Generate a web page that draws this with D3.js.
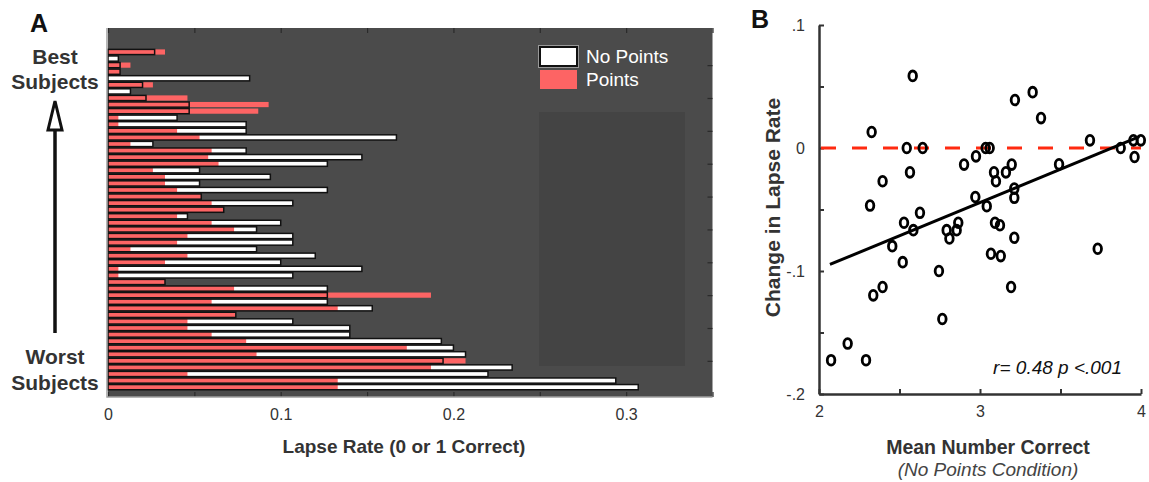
<!DOCTYPE html>
<html>
<head>
<meta charset="utf-8">
<script src="https://cdn.jsdelivr.net/npm/d3@7"></script>
<style>
  body { margin: 0; background: #fff; }
  text { font-family: "Liberation Sans", Arial, Helvetica, sans-serif; }
</style>
</head>
<body>
<div id="fig"></div>
<script>
const width = 1149;
const height = 482;

// Panel A: lapse rate per subject, listed from best (top) to worst (bottom)
const noPoints = [0.027, 0.006, 0.007, 0.007, 0.082, 0.020, 0.013, 0.022, 0.047, 0.047,
                  0.040, 0.080, 0.080, 0.167, 0.026, 0.080, 0.147, 0.127, 0.053, 0.094,
                  0.053, 0.127, 0.054, 0.107, 0.067, 0.046, 0.100, 0.086, 0.107, 0.107,
                  0.086, 0.120, 0.100, 0.147, 0.107, 0.033, 0.127, 0.127, 0.127, 0.153,
                  0.074, 0.107, 0.140, 0.140, 0.193, 0.200, 0.207, 0.194, 0.234, 0.220,
                  0.294, 0.307];
const points = [0.033, 0, 0.013, 0.007, 0, 0.026, 0, 0.046, 0.093, 0.087,
                0.006, 0.006, 0.040, 0.053, 0.013, 0.060, 0.058, 0.064, 0.026, 0.033,
                0.033, 0.040, 0.054, 0.060, 0.067, 0.040, 0.060, 0.073, 0.046, 0.040,
                0.013, 0.046, 0.033, 0.006, 0.006, 0.033, 0.073, 0.187, 0.060, 0.133,
                0.074, 0.046, 0.046, 0.060, 0.080, 0.173, 0.086, 0.207, 0.187, 0.046,
                0.133, 0.133];
const xTicksA = [0, 0.05, 0.1, 0.15, 0.2, 0.25, 0.3, 0.35];
const xLabelsA = ["0", "", "0.1", "", "0.2", "", "0.3", ""];
const yTicksA = [5, 10, 15, 20, 25, 30, 35, 40, 45, 50];
const legendA = [{name: "No Points", fill: "#ffffff"}, {name: "Points", fill: "#fd6464"}];

// Panel B: change in lapse rate vs mean number correct
const meanCorrect = [2.327, 2.582, 2.545, 2.644, 2.565, 2.395, 2.317, 2.627, 2.528, 2.586,
                     2.455, 2.520, 2.793, 2.855, 2.810, 2.865, 2.745, 2.766, 2.337, 2.395,
                     2.178, 2.075, 2.292, 2.901, 2.975, 3.035, 3.060, 2.971, 3.042, 3.087,
                     3.099, 3.161, 3.197, 3.217, 3.327, 3.379, 3.213, 3.213, 3.093, 3.124,
                     3.213, 3.068, 3.129, 3.193, 3.491, 3.683, 3.874, 3.953, 3.999, 3.960,
                     3.731];
const lapseChange = [0.013, 0.0586, 0, 0, -0.0198, -0.027, -0.0468, -0.0527, -0.0608, -0.0668,
                     -0.0798, -0.0928, -0.0668, -0.0668, -0.0736, -0.0608, -0.100, -0.139, -0.1198, -0.113,
                     -0.159, -0.1725, -0.1725, -0.0135, -0.0068, 0, 0, -0.0398, -0.0473, -0.0198,
                     -0.027, -0.0198, -0.0135, 0.039, 0.0454, 0.0243, -0.033, -0.0405, -0.0608, -0.0628,
                     -0.073, -0.086, -0.0879, -0.113, -0.0133, 0.0062, 0, 0.0062, 0.0062, -0.0073,
                     -0.0819];
const fitX = [2.068, 3.99];
const fitY = [-0.0947, 0.0092];
const xTicksB = [2, 2.5, 3, 3.5, 4];
const xLabelsB = ["2", "", "3", "", "4"];
const yTicksB = [-0.2, -0.15, -0.1, -0.05, 0, 0.05, 0.1];
const yLabelsB = ["-.2", "", "-.1", "", "0", "", ".1"];

const svg = d3.select("#fig")
    .append("svg")
    .attr("width", width)
    .attr("height", height)
    .style("background-color", "#fff");

// ---------------- Panel A ----------------
const boxTop = 28, boxBottom = 397;
const xA = d3.scaleLinear().domain([0, 0.35]).range([108, 712.5]);
const yA = d3.scaleLinear().domain([-0.5, 55.65]).range([boxBottom, boxTop]);

svg.append("rect")
    .attr("x", xA(0)).attr("y", boxTop)
    .attr("width", xA(0.35) - xA(0)).attr("height", boxBottom - boxTop)
    .attr("fill", "#4b4b4b");

// darker inner panel on the right
svg.append("rect")
    .attr("x", 539).attr("y", 112)
    .attr("width", 146).attr("height", 254)
    .attr("fill", "#444444");

function styleTicks(g, color) {
    g.select(".domain").remove();
    g.selectAll(".tick line").attr("stroke", color).attr("stroke-width", 1.2);
}

svg.append("g")
    .attr("transform", `translate(0,${boxBottom})`)
    .call(d3.axisBottom(xA).tickValues(xTicksA).tickSize(-5).tickSizeOuter(0)
        .tickPadding(12).tickFormat((d, i) => xLabelsA[i]))
    .call(g => styleTicks(g, "#2a2a2a"))
    .call(g => g.selectAll("text").attr("font-size", 16).attr("fill", "#333"));

svg.append("g")
    .attr("transform", `translate(0,${boxTop})`)
    .call(d3.axisTop(xA).tickValues(xTicksA).tickSize(-5).tickSizeOuter(0).tickFormat(""))
    .call(g => styleTicks(g, "#2a2a2a"));

svg.append("g")
    .attr("transform", `translate(${xA(0.35)},0)`)
    .call(d3.axisRight(yA).tickValues(yTicksA).tickSize(-5).tickSizeOuter(0).tickFormat(""))
    .call(g => styleTicks(g, "#2a2a2a"));

const rows = noPoints.map((v, i) => ({rank: noPoints.length - i, noPts: v, pts: points[i]}));
const barH = 5.2;

svg.append("g").selectAll("rect")
    .data(rows).enter().append("rect")
    .attr("x", xA(0))
    .attr("y", d => yA(d.rank) - barH / 2)
    .attr("width", d => xA(d.noPts) - xA(0))
    .attr("height", barH)
    .attr("fill", "#fff");

svg.append("g").selectAll("rect")
    .data(rows.filter(d => d.pts > 0)).enter().append("rect")
    .attr("x", xA(0))
    .attr("y", d => yA(d.rank) - barH / 2)
    .attr("width", d => xA(d.pts) - xA(0))
    .attr("height", barH)
    .attr("fill", "#fd6464");

svg.append("g").selectAll("rect")
    .data(rows).enter().append("rect")
    .attr("x", xA(0))
    .attr("y", d => yA(d.rank) - barH / 2)
    .attr("width", d => xA(d.noPts) - xA(0))
    .attr("height", barH)
    .attr("fill", "none")
    .attr("stroke", "#111")
    .attr("stroke-width", 1.5);

// box edges
svg.append("path")
    .attr("d", `M${xA(0) - 1},${boxTop} V${boxBottom} H${xA(0.35)}`)
    .attr("fill", "none").attr("stroke", "#a0a0a0").attr("stroke-width", 1.5);

// legend
const legend = svg.append("g").attr("transform", "translate(539,46)");
legend.selectAll("rect")
    .data(legendA).enter().append("rect")
    .attr("x", 1).attr("y", (d, i) => i * 23 + 1)
    .attr("width", 37).attr("height", 19)
    .attr("fill", d => d.fill)
    .attr("stroke", (d, i) => i === 0 ? "#111" : "none")
    .attr("stroke-width", 2);
legend.append("rect")
    .attr("x", -0.5).attr("y", -0.5).attr("width", 40).attr("height", 22)
    .attr("fill", "none").attr("stroke", "#999").attr("stroke-width", 1);
legend.selectAll("text")
    .data(legendA).enter().append("text")
    .attr("x", 47).attr("y", (d, i) => i * 23 + 17)
    .attr("font-size", 19)
    .attr("fill", "#fff")
    .text(d => d.name);

svg.append("text")
    .attr("x", 404).attr("y", 453)
    .attr("text-anchor", "middle")
    .attr("font-size", 19).attr("font-weight", "bold").attr("fill", "#333")
    .text("Lapse Rate (0 or 1 Correct)");

svg.append("text").attr("x", 30).attr("y", 32)
    .attr("font-size", 25).attr("font-weight", "bold").attr("fill", "#111").text("A");

const sideLabels = [
    {t: "Best", y: 64}, {t: "Subjects", y: 89},
    {t: "Worst", y: 364}, {t: "Subjects", y: 390}
];
svg.append("g").selectAll("text")
    .data(sideLabels).enter().append("text")
    .attr("x", 55).attr("y", d => d.y)
    .attr("text-anchor", "middle")
    .attr("font-size", 21).attr("font-weight", "bold").attr("fill", "#333")
    .text(d => d.t);

svg.append("line")
    .attr("x1", 55).attr("x2", 55).attr("y1", 333).attr("y2", 130)
    .attr("stroke", "#111").attr("stroke-width", 3.5);
svg.append("path")
    .attr("d", "M55,101 L48,130 L62,130 Z")
    .attr("fill", "#fff").attr("stroke", "#111").attr("stroke-width", 3).attr("stroke-linejoin", "miter");

// ---------------- Panel B ----------------
const xB = d3.scaleLinear().domain([2, 4]).range([819, 1141]);
const yB = d3.scaleLinear().domain([-0.2, 0.1]).range([394, 25]);

svg.append("g")
    .attr("transform", `translate(0,${yB(-0.2)})`)
    .call(d3.axisBottom(xB).tickValues(xTicksB).tickSize(-5).tickSizeOuter(0)
        .tickPadding(12).tickFormat((d, i) => xLabelsB[i]))
    .call(g => g.select(".domain").attr("stroke", "#333").attr("stroke-width", 2.5))
    .call(g => g.selectAll(".tick line").attr("stroke", "#333").attr("stroke-width", 2))
    .call(g => g.selectAll("text").attr("font-size", 16).attr("fill", "#333"));

svg.append("g")
    .attr("transform", `translate(${xB(2)},0)`)
    .call(d3.axisLeft(yB).tickValues(yTicksB).tickSize(-5).tickSizeOuter(0)
        .tickPadding(14).tickFormat((d, i) => yLabelsB[i]))
    .call(g => g.select(".domain").attr("stroke", "#333").attr("stroke-width", 2.5))
    .call(g => g.selectAll(".tick line").attr("stroke", "#333").attr("stroke-width", 2))
    .call(g => g.selectAll("text").attr("font-size", 16).attr("fill", "#333"));

svg.append("line")
    .attr("x1", xB(2) + 2).attr("x2", xB(4)).attr("y1", yB(0)).attr("y2", yB(0))
    .attr("stroke", "#ff2a10").attr("stroke-width", 3)
    .attr("stroke-dasharray", "15,16");

svg.append("line")
    .attr("x1", xB(fitX[0])).attr("y1", yB(fitY[0]))
    .attr("x2", xB(fitX[1])).attr("y2", yB(fitY[1]))
    .attr("stroke", "#000").attr("stroke-width", 3);

svg.append("g").selectAll("ellipse")
    .data(meanCorrect.map((m, i) => ({m, c: lapseChange[i]})))
    .enter().append("ellipse")
    .attr("cx", d => xB(d.m))
    .attr("cy", d => yB(d.c))
    .attr("rx", 3.8).attr("ry", 4.9)
    .attr("fill", "none")
    .attr("stroke", "#000")
    .attr("stroke-width", 2.8);

svg.append("text")
    .attr("x", 1122).attr("y", 374)
    .attr("text-anchor", "end")
    .attr("font-size", 19).attr("font-style", "italic").attr("fill", "#111")
    .text("r= 0.48 p <.001");

svg.append("text")
    .attr("transform", `translate(780,${yB(-0.05) - 2}) rotate(-90)`)
    .attr("text-anchor", "middle")
    .attr("font-size", 21).attr("font-weight", "bold").attr("fill", "#333")
    .text("Change in Lapse Rate");

svg.append("text")
    .attr("x", xB(3) + 8).attr("y", 454)
    .attr("text-anchor", "middle")
    .attr("font-size", 19.5).attr("font-weight", "bold").attr("fill", "#333")
    .text("Mean Number Correct");

svg.append("text")
    .attr("x", xB(3) + 8).attr("y", 476)
    .attr("text-anchor", "middle")
    .attr("font-size", 19).attr("font-style", "italic").attr("fill", "#444")
    .text("(No Points Condition)");

svg.append("text").attr("x", 751).attr("y", 28)
    .attr("font-size", 25).attr("font-weight", "bold").attr("fill", "#111").text("B");
</script>
</body>
</html>
